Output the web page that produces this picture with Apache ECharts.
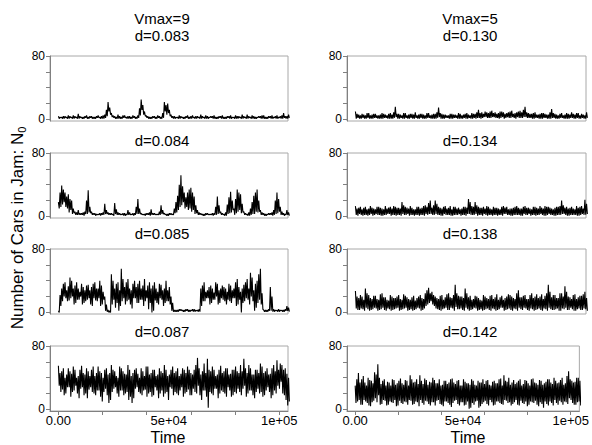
<!DOCTYPE html>
<html>
<head>
<meta charset="utf-8">
<script src="https://cdn.jsdelivr.net/npm/echarts@6/dist/echarts.min.js"></script>
<style>html,body{margin:0;padding:0;background:#fff}#c{width:592px;height:445px}</style>
</head>
<body>
<div id="c"></div>
<script>
// ---- data ----
// each panel: peak/trough readings; per 1500 time steps the order is hiA, loA, hiB, loB
const quarterStep = 375;
const columnHeads = ['Vmax=9', 'Vmax=5'];
const leftTitles = ['d=0.083', 'd=0.084', 'd=0.085', 'd=0.087'];
const rightTitles = ['d=0.130', 'd=0.134', 'd=0.138', 'd=0.142'];
const xTickValues = [0, 20000, 40000, 60000, 80000, 100000];
const xLabelValues = [0, 50000, 100000];
const xLabelTexts = ['0.00', '5e+04', '1e+05'];
const yTickValues = [0, 20, 40, 60, 80];
const yLabelValues = [0, 80];

const L1hiA = [4,3,4,5,3,4,7,3,4,3,4,3,5,4,6,22,8,4,6,3,5,4,3,4,5,25,10,4,3,4,5,3,22,20,6,4,3,4,3,5,4,3,4,6,3,4,4,5,3,4,3,4,5,3,4,3,4,6,3,4,3,4,5,3,4,3,5,4,8,4];
const L1loA = [1,1,2,1,1,2,1,1,2,1,1,1,2,1,2,10,3,1,1,1,2,1,1,1,2,12,4,1,1,1,2,1,10,8,2,1,1,2,1,1,1,1,2,1,1,1,2,1,1,1,1,2,1,1,1,1,2,1,1,1,2,1,1,1,1,2,1,1,2,1];
const L1hiB = [3,4,3,4,5,3,4,3,5,4,3,4,3,5,12,15,5,3,4,5,3,4,5,3,14,18,5,3,4,3,4,8,18,12,4,3,5,3,4,3,5,4,3,4,5,3,4,3,4,5,3,4,3,5,4,6,3,4,5,3,4,5,3,4,5,4,3,5,4,6];
const L1loB = [2,1,1,2,1,1,2,1,1,2,1,2,1,1,4,6,2,1,1,2,1,1,2,1,5,6,2,1,2,1,1,2,6,4,1,2,1,1,2,1,2,1,1,2,1,2,1,1,2,1,1,1,2,1,2,1,1,2,1,1,2,1,1,2,1,1,2,1,1,2];

const L2hiA = [18,39,30,28,20,6,8,4,6,33,6,4,3,4,16,5,4,17,5,3,4,8,3,4,22,4,3,4,9,4,3,14,4,3,4,10,26,52,30,30,36,25,8,4,3,4,3,4,25,6,3,15,31,10,34,28,6,3,10,26,34,8,4,3,4,8,30,12,4,8];
const L2loA = [10,15,12,5,3,2,2,2,3,5,2,1,2,2,3,2,2,3,2,2,1,2,2,2,3,2,1,2,2,2,2,3,2,1,2,4,8,14,10,8,6,3,2,2,1,2,2,2,3,2,1,3,5,2,6,4,2,1,2,3,5,2,1,2,2,2,4,2,1,2];
const L2hiB = [30,34,25,22,10,5,4,5,20,12,4,3,4,5,8,4,3,9,4,4,3,5,4,12,10,3,4,5,4,3,6,8,3,4,3,18,40,38,24,34,30,14,5,3,4,3,4,12,14,4,5,24,20,22,30,16,4,5,18,30,20,5,3,4,5,20,22,6,3,5];
const L2loB = [12,18,10,8,4,2,2,1,3,4,2,2,1,2,3,2,1,2,2,1,2,2,1,3,3,2,2,1,2,2,2,3,1,2,2,5,12,18,12,10,8,4,2,1,2,2,1,2,4,2,1,4,8,4,8,5,2,1,3,6,6,2,1,2,1,3,6,2,2,1];

const L3hiA = [2,30,38,33,40,34,30,36,28,35,32,38,30,34,20,3,48,30,38,55,32,42,28,40,36,30,42,34,30,38,26,35,30,28,20,3,3,4,3,4,3,4,3,30,38,28,34,25,36,30,32,26,34,30,42,26,35,42,50,28,40,55,3,3,32,4,3,3,3,8];
const L3loA = [0,14,18,15,20,12,16,10,14,18,8,15,18,10,2,0,10,6,2,14,10,16,5,18,12,16,14,4,0,15,10,16,12,14,2,1,1,2,1,1,2,1,1,8,14,18,12,16,10,18,14,16,12,18,10,0,14,16,20,2,12,10,1,1,2,1,1,2,1,2];
const L3hiB = [22,36,28,44,30,38,26,32,34,28,36,30,40,26,10,2,40,36,28,42,38,30,36,32,40,34,28,38,34,30,36,28,40,32,12,3,4,3,4,3,4,3,4,34,26,32,30,38,28,34,30,36,28,38,32,30,38,30,44,36,48,24,3,4,20,3,4,3,4,6];
const L3loB = [8,20,14,18,10,16,20,12,16,10,18,14,8,16,1,0,16,12,8,18,14,10,18,12,16,8,18,12,2,12,18,8,14,10,1,1,2,1,2,1,1,2,1,14,18,10,16,20,12,16,10,14,18,8,16,12,18,10,14,6,16,4,1,2,1,2,1,1,2,1];

const L4hiA = [55,48,40,52,45,50,42,55,44,48,50,42,54,46,50,44,56,48,40,52,45,56,42,50,45,52,42,54,46,50,44,48,56,42,50,46,52,45,50,54,46,50,65,44,58,64,48,50,44,55,48,52,45,50,48,56,64,46,52,44,50,58,46,52,45,56,62,58,50,45];
const L4loA = [30,25,20,28,22,30,14,28,20,25,22,18,24,10,26,8,22,28,16,24,20,12,8,26,22,18,25,20,16,28,14,24,20,12,26,22,18,28,20,25,18,22,30,12,24,2,20,26,14,24,20,28,16,22,26,18,30,20,24,14,26,22,18,28,14,24,30,35,18,5];
const L4hiB = [46,52,44,48,54,40,50,46,52,42,54,46,48,40,52,46,50,42,54,48,44,50,46,52,40,48,54,44,50,42,52,46,50,44,54,48,42,52,46,50,44,56,52,48,46,50,54,42,50,46,52,44,50,54,46,48,52,56,44,50,46,54,48,44,52,48,50,56,52,40];
const L4loB = [22,18,28,16,24,20,26,18,14,28,20,24,16,22,18,12,26,20,24,18,22,16,14,28,20,24,16,22,18,24,20,16,22,28,18,20,24,16,22,18,26,20,18,24,16,22,18,26,20,22,16,24,18,20,22,26,16,24,18,22,20,16,24,22,18,20,26,20,12,10];

const R1hiA = [10,6,7,5,8,6,7,5,8,6,7,6,16,7,5,8,6,7,9,6,7,5,8,6,7,15,7,6,5,7,6,8,5,7,6,8,7,12,9,10,8,11,9,8,10,7,9,11,8,10,9,16,8,7,9,6,8,7,6,13,7,5,8,6,7,9,6,8,7,5];
const R1loA = [1,1,2,1,1,1,2,1,1,2,1,1,3,1,1,2,1,1,2,1,1,1,2,1,1,3,1,2,1,1,2,1,1,1,2,1,1,2,2,3,2,3,2,1,3,2,2,3,1,2,2,3,2,1,2,1,1,2,1,2,1,1,2,1,1,2,1,1,2,1];
const R1hiB = [7,5,6,8,5,7,5,6,7,5,8,9,7,6,8,5,7,6,5,7,6,8,5,7,9,8,6,5,7,6,5,7,6,8,5,7,9,8,7,9,10,8,7,10,9,8,10,7,9,11,12,9,7,8,6,7,8,6,9,8,6,7,5,8,6,7,8,5,6,9];
const R1loB = [2,1,1,2,1,2,1,1,2,1,1,2,1,2,1,1,2,1,1,2,1,2,1,1,2,1,1,2,1,2,1,1,2,1,1,2,2,1,3,2,2,3,2,2,1,3,2,2,3,2,3,2,2,1,2,1,2,1,1,2,1,2,1,1,2,1,2,1,1,2];

const R2hiA = [13,11,9,12,10,11,9,12,10,13,11,10,12,11,18,12,10,11,9,12,11,14,17,11,20,12,10,13,11,9,12,11,10,12,22,13,18,12,11,10,12,9,11,10,12,11,9,10,12,11,10,13,11,9,12,10,11,13,12,10,11,12,20,11,10,12,9,11,13,21];
const R2loA = [2,3,1,2,2,1,3,2,1,2,3,2,1,2,3,2,1,2,2,1,2,3,3,2,3,2,1,2,2,1,2,3,2,1,3,2,3,2,1,2,2,1,2,2,1,3,2,1,2,2,1,2,3,2,1,2,2,1,3,2,1,2,3,2,1,2,2,1,3,2];
const R2hiB = [10,12,11,9,13,10,12,11,9,10,12,13,11,10,14,11,13,9,12,10,13,12,20,14,16,11,12,10,13,12,10,9,12,11,18,12,14,11,12,13,10,12,11,9,13,12,10,11,13,10,12,11,10,12,11,13,10,12,11,9,12,13,14,12,11,10,13,12,10,16];
const R2loB = [1,2,2,1,3,2,2,1,2,3,1,2,2,1,2,3,2,1,2,2,1,2,3,2,2,1,3,2,1,2,2,1,2,3,2,2,1,2,3,1,2,2,1,2,3,2,1,2,2,1,3,2,1,2,2,3,1,2,2,1,2,2,3,1,2,2,1,2,2,3];

const R3hiA = [27,18,20,30,22,17,21,16,24,19,15,20,18,22,16,21,17,19,15,20,18,24,31,26,20,17,22,19,24,18,35,21,20,30,19,16,21,18,15,20,17,22,19,16,21,18,23,20,17,28,19,22,17,24,20,18,23,21,35,19,22,18,24,33,20,17,23,19,21,26];
const R3loA = [5,3,4,6,2,4,5,3,6,2,4,3,5,2,4,6,3,2,4,5,3,8,12,10,5,3,4,6,3,5,7,4,3,6,2,4,5,3,2,4,3,5,2,4,6,3,5,2,4,6,3,5,2,4,3,5,2,4,6,3,4,2,5,6,3,4,2,5,3,4];
const R3hiB = [20,22,16,24,18,21,17,23,19,16,22,18,20,17,23,19,16,21,18,22,17,28,24,22,18,21,16,23,19,22,24,20,18,24,21,17,20,16,22,18,21,17,23,19,16,20,22,18,24,19,21,17,22,18,23,20,17,24,26,22,18,24,20,26,19,22,17,21,23,18];
const R3loB = [3,5,2,4,3,6,2,4,3,5,2,4,6,3,5,2,4,3,6,2,5,10,14,8,4,2,5,3,6,2,4,5,2,4,3,6,2,4,3,5,2,4,3,6,2,4,3,5,2,4,6,3,5,2,4,3,5,2,4,3,5,2,4,3,6,2,4,3,5,2];

const R4hiA = [30,46,38,34,40,36,47,57,32,38,35,30,37,33,39,31,36,43,34,38,43,32,37,35,40,33,38,31,36,34,39,32,37,30,35,33,38,31,36,34,32,37,30,36,33,39,43,35,31,37,34,38,32,36,30,39,33,37,31,35,38,32,36,34,40,33,48,36,35,40];
const R4loA = [8,12,6,10,5,9,14,18,7,11,6,9,12,5,8,10,6,11,7,9,12,6,10,5,9,11,7,4,10,6,8,12,5,9,6,1,8,10,2,7,11,5,9,6,10,7,12,8,5,9,6,11,7,4,10,8,6,9,2,7,10,5,8,11,6,9,14,8,6,10];
const R4hiB = [38,34,42,30,37,33,44,40,36,30,34,38,31,36,33,37,30,38,35,32,36,39,31,34,37,33,30,36,32,38,34,36,30,38,33,31,36,30,34,38,36,31,35,33,38,30,36,40,34,32,36,30,37,33,38,34,31,36,33,38,34,40,33,37,31,42,38,34,40,36];
const R4loB = [10,6,12,8,4,11,9,6,12,5,10,8,4,11,7,9,12,6,10,4,8,11,7,9,5,12,6,10,8,3,11,7,9,5,10,2,6,11,4,9,7,12,5,10,8,6,11,9,7,12,5,8,10,6,9,11,4,7,10,5,8,12,6,9,10,7,12,6,9,5];

const panels = [
  [L1hiA, L1loA, L1hiB, L1loB], [L2hiA, L2loA, L2hiB, L2loB],
  [L3hiA, L3loA, L3hiB, L3loB], [L4hiA, L4loA, L4hiB, L4loB],
  [R1hiA, R1loA, R1hiB, R1loB], [R2hiA, R2loA, R2hiB, R2loB],
  [R3hiA, R3loA, R3hiB, R3loB], [R4hiA, R4loA, R4hiB, R4loB]
];

// ---- layout ----
const FONT = '"Liberation Sans", Arial, sans-serif';
const colLeft = [50, 347];
const colWidth = [238, 239];
const rowTop = [56, 153, 249, 346];
const rowHeight = 65;
const titleX = [162, 470];
const titleY = [35, 140, 233, 331.5];

function seriesData(arrs) {
  const out = [];
  const n = Math.min.apply(null, arrs.map(a => a.length));
  for (let i = 0; i < n; i++) {
    for (let j = 0; j < arrs.length; j++) {
      out.push([(arrs.length * i + j) * quarterStep, arrs[j][i]]);
    }
  }
  return out;
}

const grids = [], xAxes = [], yAxes = [], series = [], graphics = [];
for (let c = 0; c < 2; c++) {
  for (let r = 0; r < 4; r++) {
    const k = c * 4 + r;
    const bottomRow = r === 3;
    grids.push({
      left: colLeft[c], top: rowTop[r], width: colWidth[c], height: rowHeight,
      show: true, borderColor: '#a8a8a8', borderWidth: 1, backgroundColor: '#fff'
    });
    xAxes.push({
      gridIndex: k, type: 'value', min: -3800, max: 104000,
      splitLine: { show: false },
      axisLine: { show: bottomRow, onZero: false, lineStyle: { color: '#808080', width: 1 } },
      axisTick: { show: bottomRow, customValues: xTickValues, length: 4, lineStyle: { color: '#808080' } },
      axisLabel: {
        show: bottomRow, customValues: xLabelValues, margin: 3,
        fontSize: 13, color: '#000', fontFamily: FONT,
        formatter: v => xLabelTexts[xLabelValues.indexOf(v)] || ''
      }
    });
    yAxes.push({
      gridIndex: k, type: 'value', min: -2, max: 80,
      splitLine: { show: false },
      axisLine: { show: true, onZero: false, lineStyle: { color: '#808080', width: 1 } },
      axisTick: { show: true, customValues: yTickValues, length: 4, lineStyle: { color: '#808080' } },
      axisLabel: { show: true, customValues: yLabelValues, margin: 5, fontSize: 12, color: '#000', fontFamily: FONT }
    });
    series.push({
      type: 'line', xAxisIndex: k, yAxisIndex: k,
      data: seriesData(panels[k]),
      showSymbol: false, symbol: 'none', clip: true,
      lineStyle: { color: '#000', width: 1.1 },
      silent: true
    });
    const t = (c === 0 ? leftTitles : rightTitles)[r];
    graphics.push({
      type: 'text', x: titleX[c], y: titleY[r],
      style: { text: t, fontSize: 15, fontFamily: FONT, fill: '#000', align: 'center', verticalAlign: 'middle' }
    });
  }
  graphics.push({
    type: 'text', x: titleX[c], y: 18,
    style: { text: columnHeads[c], fontSize: 15, fontFamily: FONT, fill: '#000', align: 'center', verticalAlign: 'middle' }
  });
  graphics.push({
    type: 'text', x: [168, 468][c], y: 437,
    style: { text: 'Time', fontSize: 16, fontFamily: FONT, fill: '#000', align: 'center', verticalAlign: 'middle' }
  });
}
graphics.push({
  type: 'text', x: 17, y: 228, rotation: Math.PI / 2,
  style: {
    text: '{a|Number of Cars in Jam: N}{s|0}',
    align: 'center', verticalAlign: 'middle', fill: '#000',
    rich: {
      a: { fontSize: 17, fontFamily: FONT, fill: '#000', lineHeight: 20 },
      s: { fontSize: 11, fontFamily: FONT, fill: '#000', lineHeight: 20, verticalAlign: 'bottom', padding: [9, 0, 0, 0] }
    }
  }
});

const chart = echarts.init(document.getElementById('c'), null, { renderer: 'svg' });
chart.setOption({
  animation: false,
  backgroundColor: '#fff',
  grid: grids, xAxis: xAxes, yAxis: yAxes, series: series,
  graphic: graphics
});
</script>
</body>
</html>
